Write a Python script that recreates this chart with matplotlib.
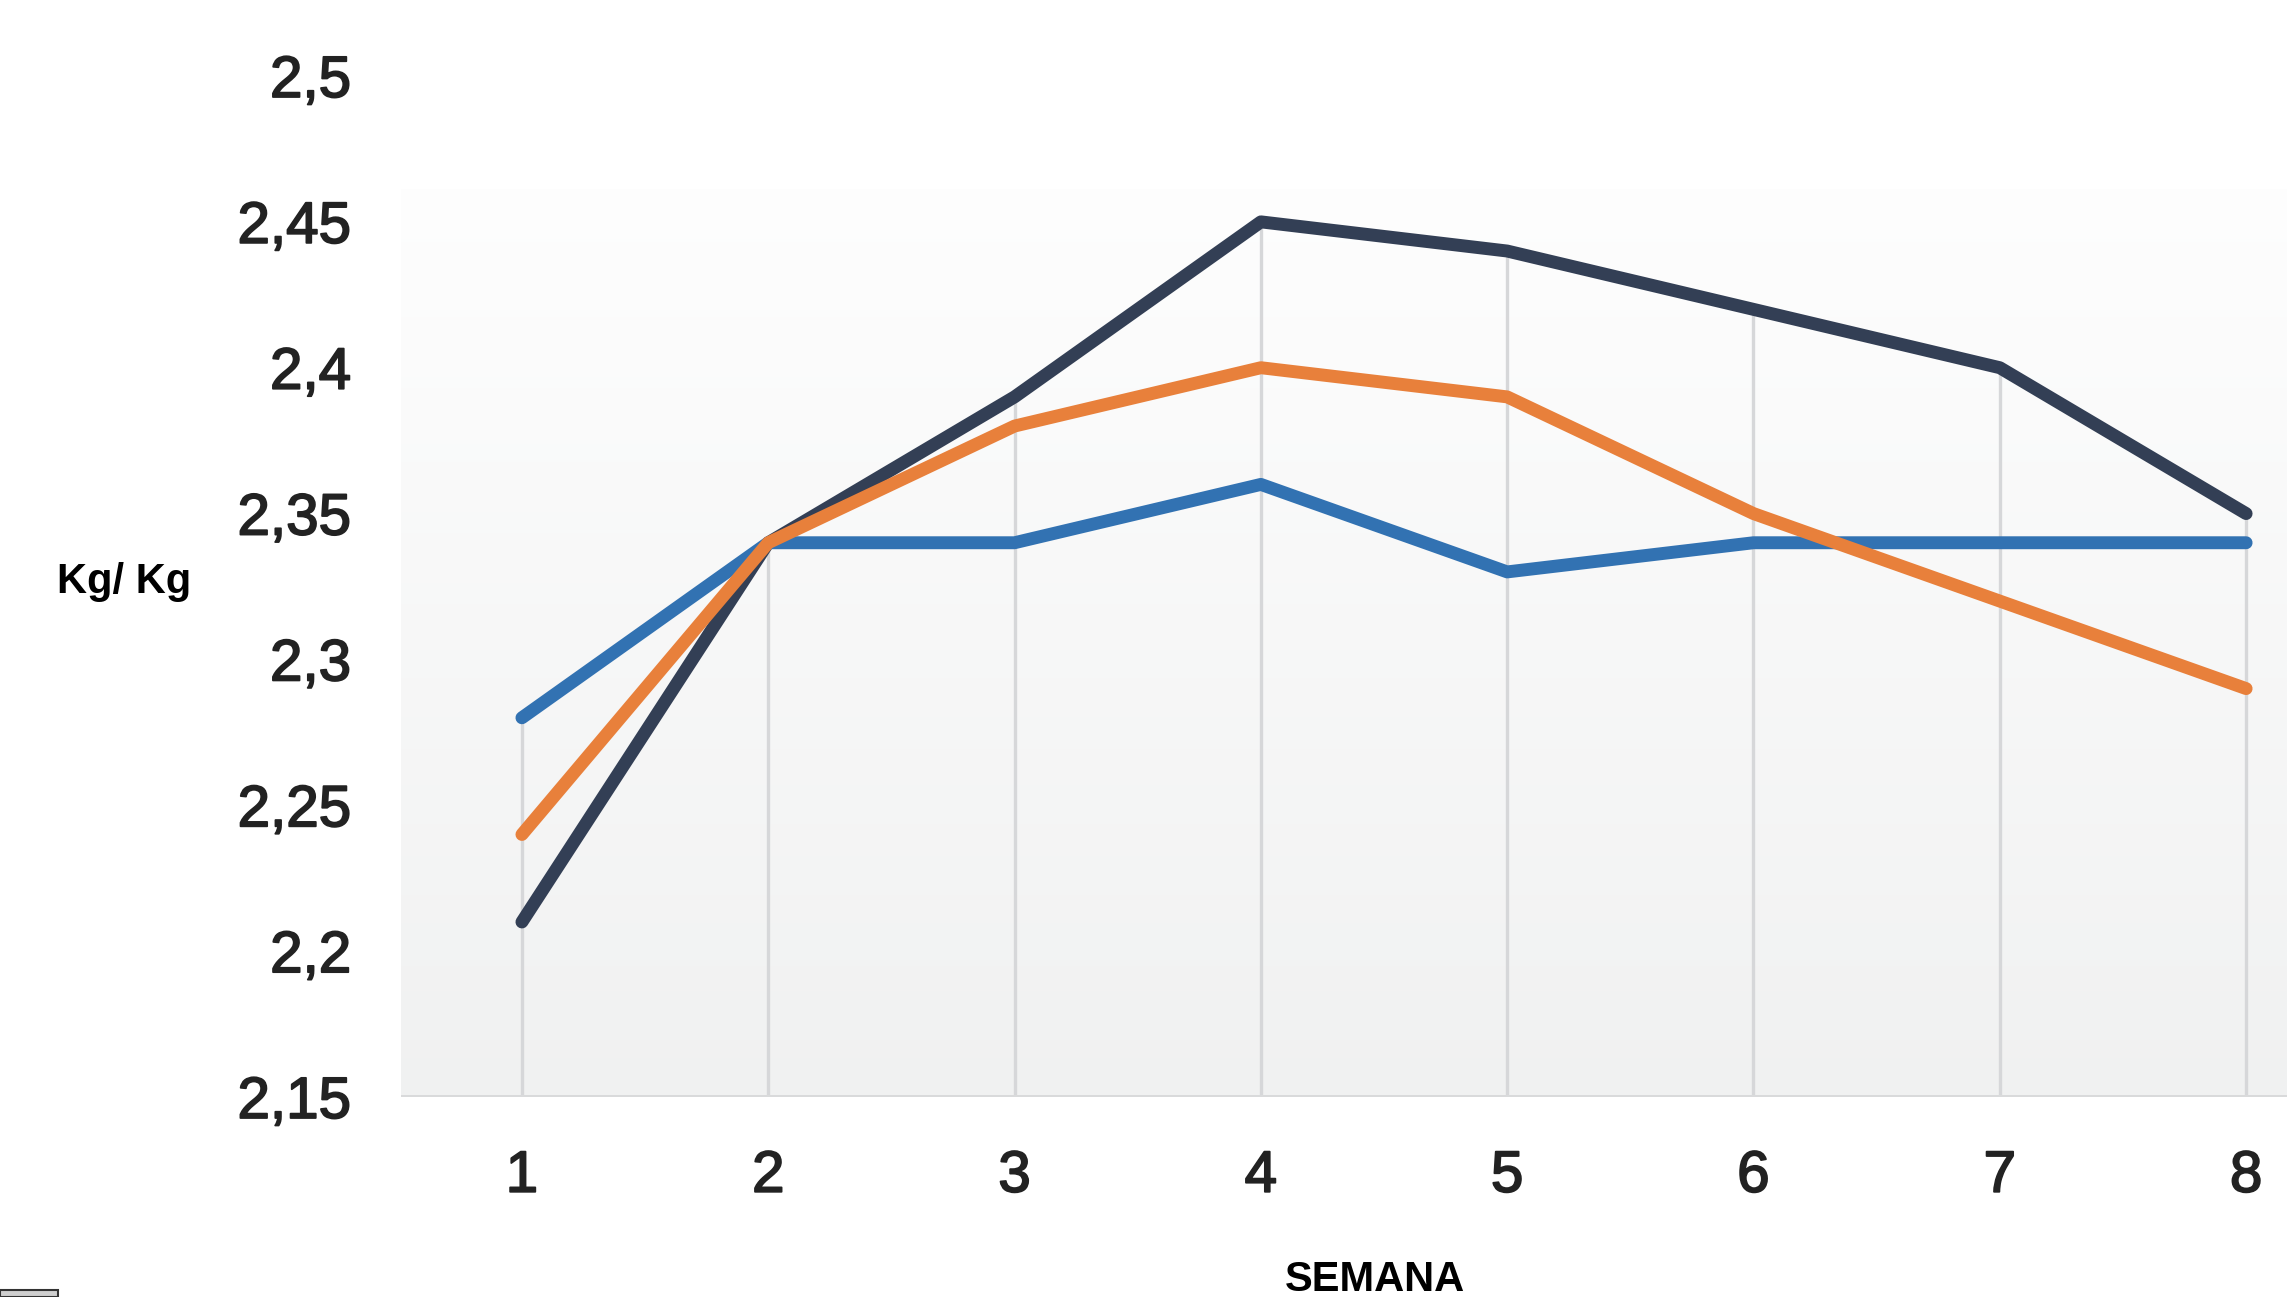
import numpy as np
import matplotlib
matplotlib.use("Agg")
import matplotlib.pyplot as plt
import matplotlib.patheffects as pe
from matplotlib.patches import Rectangle

plt.rcParams['font.family'] = ['Liberation Sans', 'DejaVu Sans']

# datos
semanas = [1, 2, 3, 4, 5, 6, 7, 8]
serie_azul = [2.28, 2.34, 2.34, 2.36, 2.33, 2.34, 2.34, 2.34]
serie_naranja = [2.24, 2.34, 2.38, 2.40, 2.39, 2.35, 2.32, 2.29]
serie_oscura = [2.21, 2.34, 2.39, 2.45, 2.44, 2.42, 2.40, 2.35]
y_ticks = [2.15, 2.2, 2.25, 2.3, 2.35, 2.4, 2.45, 2.5]
y_labels = ['2,15', '2,2', '2,25', '2,3', '2,35', '2,4', '2,45', '2,5']

W, H = 2287, 1297
fig = plt.figure(figsize=(W / 100, H / 100), dpi=100)
ax = fig.add_axes([401 / W, (H - 1097) / H, 1886 / W, (1097 - 76) / H])

x0, x1 = 0.509, 8.166
y0, y1 = 2.15, 2.5
ax.set_xlim(x0, x1)
ax.set_ylim(y0, y1)

# fondo degradado
grad = np.linspace(0, 1, 256).reshape(-1, 1)
top = np.array([0.995, 0.995, 0.995])
bot = np.array([0.943, 0.946, 0.946])
img = top + (bot - top) * grad[..., None]
ax.imshow(img, extent=(x0, x1, y0, 2.461), origin='upper', aspect='auto', zorder=0)

# lineas verticales hasta el valor maximo
maximos = np.max([serie_azul, serie_naranja, serie_oscura], axis=0)
ax.vlines(semanas, y0, maximos, color='#d6d7d9', lw=2.4, zorder=1)
ax.axhline(y0, color='#d9dadb', lw=3.6, zorder=1)

estilo = dict(lw=9.3, solid_capstyle='round', solid_joinstyle='round')
ax.plot(semanas, serie_oscura, color='#333f55', zorder=2, **estilo)
ax.plot(semanas, serie_azul, color='#3272b2', zorder=3, **estilo)
ax.plot(semanas, serie_naranja, color='#e8803b', zorder=4, **estilo)

for s in ax.spines.values():
    s.set_visible(False)
grueso = [pe.withStroke(linewidth=1.3, foreground='#222222')]
ax.set_xticks(semanas)
ax.set_xticklabels([str(s) for s in semanas], fontsize=42, color='#222222', path_effects=grueso)
ax.set_yticks(y_ticks)
ax.set_yticklabels(y_labels, fontsize=42, color='#222222', path_effects=grueso)
ax.tick_params(axis='both', length=0)
ax.tick_params(axis='y', pad=36)
ax.tick_params(axis='x', pad=38)

fig.text(124 / W, 1 - 582 / H, 'Kg/ Kg', fontsize=30, fontweight='bold', ha='center', va='center')
fig.text(1375 / W, 1 - 1280 / H, 'SEMANA', fontsize=30, fontweight='bold', ha='center', va='center')

# pequeño recuadro en la esquina inferior izquierda
fig.patches.append(Rectangle((0, 0), 58 / W, 7 / H, transform=fig.transFigure,
                             facecolor='#cfcfcf', edgecolor='#333333', lw=1.5))

fig.savefig('out.png', dpi=100)
